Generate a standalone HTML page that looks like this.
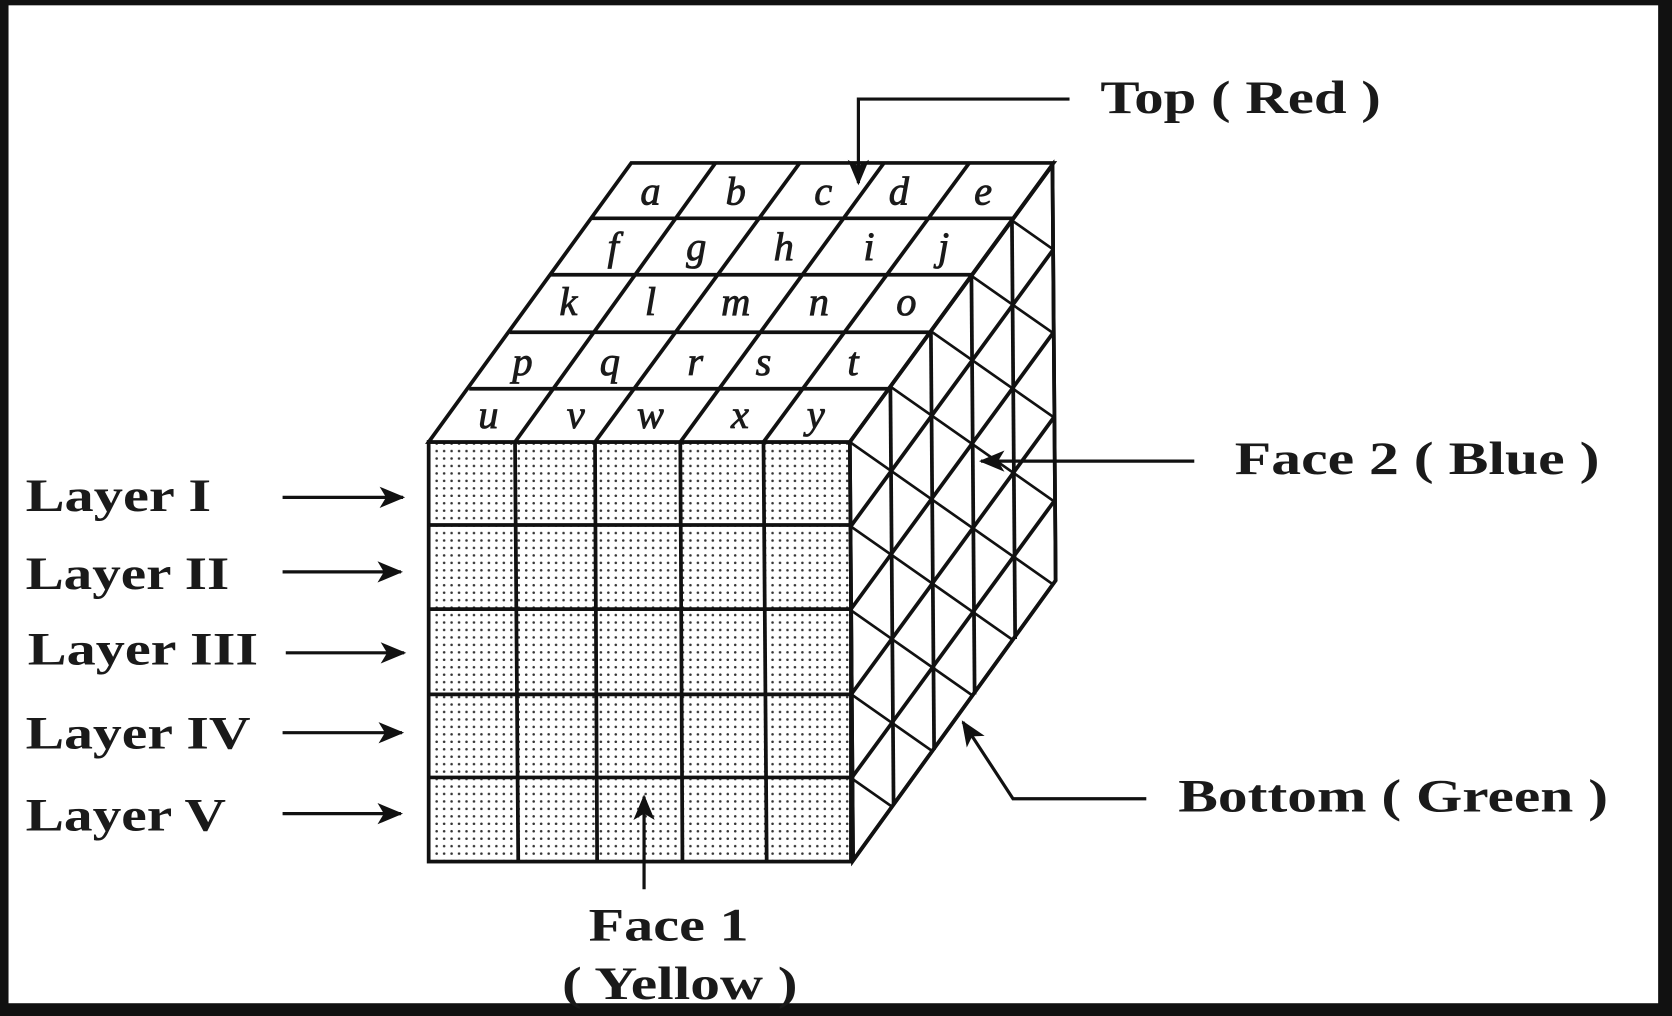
<!DOCTYPE html>
<html><head><meta charset="utf-8"><style>
html,body{margin:0;padding:0;background:#fff;overflow:hidden;}
svg{display:block;}
.lbl{font-family:"Liberation Serif",serif;font-weight:bold;font-size:44px;fill:#1a1a1a;}
.let{font-family:"Liberation Serif",serif;font-style:italic;font-size:38px;fill:#1a1a1a;text-anchor:middle;stroke:#1a1a1a;stroke-width:0.8;}
</style></head><body>
<svg width="1672" height="1016" viewBox="0 0 1568 954" preserveAspectRatio="none" xmlns="http://www.w3.org/2000/svg">
<defs>
<pattern id="dots" width="7" height="7" patternUnits="userSpaceOnUse"><circle cx="3.5" cy="3.5" r="1.2" fill="#333"/></pattern>
<clipPath id="rf"><polygon points="797,415 987,155 990,545 800,808"/></clipPath>
<marker id="ah" markerWidth="24" markerHeight="20" refX="22" refY="10" orient="auto" markerUnits="userSpaceOnUse" viewBox="0 0 24 20"><path d="M0,0 L24,10 L0,20 L6,10 z" fill="#111"/></marker>
</defs>
<rect x="0" y="0" width="1568" height="954" fill="#111"/>
<rect x="8" y="5" width="1547" height="937" fill="#fff"/>
<g stroke="#111" stroke-width="3.5" fill="none">
<rect x="402" y="415" width="396" height="394" fill="url(#dots)"/>
<line x1="483" y1="415" x2="486" y2="809"/><line x1="558" y1="415" x2="560" y2="809"/>
<line x1="638" y1="415" x2="640" y2="809"/><line x1="716" y1="415" x2="719" y2="809"/>
<line x1="402" y1="493" x2="798" y2="493"/><line x1="402" y1="572" x2="798" y2="572"/>
<line x1="402" y1="652" x2="798" y2="652"/><line x1="402" y1="730" x2="798" y2="730"/>
<polygon points="592,153 988,153 797,415 402,415" fill="#fff"/>
<line x1="554" y1="205" x2="950" y2="205"/><line x1="516" y1="258" x2="912" y2="258"/>
<line x1="478" y1="312" x2="874" y2="312"/><line x1="440" y1="365" x2="836" y2="365"/>
<line x1="671" y1="153" x2="483" y2="415"/><line x1="750" y1="153" x2="558" y2="415"/>
<line x1="829" y1="153" x2="638" y2="415"/><line x1="909" y1="153" x2="716" y2="415"/>
<polygon points="797,415 987,155 990,545 800,808" fill="#fff"/>
<g clip-path="url(#rf)" stroke-width="2.5">
<line x1="379" y1="515" x2="835" y2="835"/><line x1="417" y1="463" x2="873" y2="783"/>
<line x1="455" y1="411" x2="911" y2="731"/><line x1="493" y1="359" x2="949" y2="679"/>
<line x1="531" y1="307" x2="987" y2="627"/><line x1="569" y1="255" x2="1025" y2="575"/>
<line x1="607" y1="203" x2="1063" y2="523"/><line x1="645" y1="151" x2="1101" y2="471"/>
<line x1="683" y1="99" x2="1139" y2="419"/><line x1="721" y1="47" x2="1177" y2="367"/>
<line x1="759" y1="-5" x2="1215" y2="315"/>
</g>
<line x1="835" y1="363" x2="838" y2="756"/><line x1="873" y1="311" x2="876" y2="704"/>
<line x1="911" y1="259" x2="914" y2="652"/><line x1="949" y1="207" x2="952" y2="600"/>
<line x1="798" y1="494" x2="988" y2="234"/><line x1="798" y1="572" x2="988" y2="312"/>
<line x1="799" y1="651" x2="989" y2="391"/><line x1="799" y1="730" x2="989" y2="470"/>
<polygon points="797,415 987,155 990,545 800,808"/>
<g stroke-width="3">
<line x1="265" y1="467" x2="378" y2="467" marker-end="url(#ah)"/>
<line x1="265" y1="537" x2="376" y2="537" marker-end="url(#ah)"/>
<line x1="268" y1="613" x2="379" y2="613" marker-end="url(#ah)"/>
<line x1="265" y1="688" x2="377" y2="688" marker-end="url(#ah)"/>
<line x1="265" y1="764" x2="376" y2="764" marker-end="url(#ah)"/>
<polyline points="1003,93 805,93 805,172" marker-end="url(#ah)"/>
<line x1="1120" y1="433" x2="920" y2="433" marker-end="url(#ah)"/>
<polyline points="1075,750 950,750 903,678" marker-end="url(#ah)"/>
<line x1="604" y1="835" x2="604" y2="748" marker-end="url(#ah)"/>
</g>
</g>
<text class="let" x="610" y="192">a</text><text class="let" x="690" y="192">b</text><text class="let" x="772" y="192">c</text><text class="let" x="843" y="192">d</text><text class="let" x="922" y="192">e</text>
<text class="let" x="575" y="244">f</text><text class="let" x="653" y="244">g</text><text class="let" x="735" y="244">h</text><text class="let" x="815" y="244">i</text><text class="let" x="885" y="244">j</text>
<text class="let" x="533" y="296">k</text><text class="let" x="610" y="296">l</text><text class="let" x="690" y="296">m</text><text class="let" x="768" y="296">n</text><text class="let" x="850" y="296">o</text>
<text class="let" x="490" y="352">p</text><text class="let" x="572" y="352">q</text><text class="let" x="652" y="352">r</text><text class="let" x="716" y="352">s</text><text class="let" x="800" y="352">t</text>
<text class="let" x="458" y="402">u</text><text class="let" x="540" y="402">v</text><text class="let" x="610" y="402">w</text><text class="let" x="694" y="402">x</text><text class="let" x="765" y="402">y</text>
<text class="lbl" x="1032" y="106" textLength="263" lengthAdjust="spacingAndGlyphs">Top ( Red )</text>
<text class="lbl" x="1158" y="445" textLength="342" lengthAdjust="spacingAndGlyphs">Face 2 ( Blue )</text>
<text class="lbl" x="1105" y="762" textLength="403" lengthAdjust="spacingAndGlyphs">Bottom ( Green )</text>
<text class="lbl" x="24" y="480" textLength="174" lengthAdjust="spacingAndGlyphs">Layer I</text>
<text class="lbl" x="24" y="553" textLength="191" lengthAdjust="spacingAndGlyphs">Layer II</text>
<text class="lbl" x="26" y="624" textLength="216" lengthAdjust="spacingAndGlyphs">Layer III</text>
<text class="lbl" x="24" y="703" textLength="211" lengthAdjust="spacingAndGlyphs">Layer IV</text>
<text class="lbl" x="24" y="780" textLength="188" lengthAdjust="spacingAndGlyphs">Layer V</text>
<text class="lbl" x="552" y="883" textLength="150" lengthAdjust="spacingAndGlyphs">Face 1</text>
<text class="lbl" x="527" y="938" textLength="221" lengthAdjust="spacingAndGlyphs">( Yellow )</text>
</svg>
</body></html>
